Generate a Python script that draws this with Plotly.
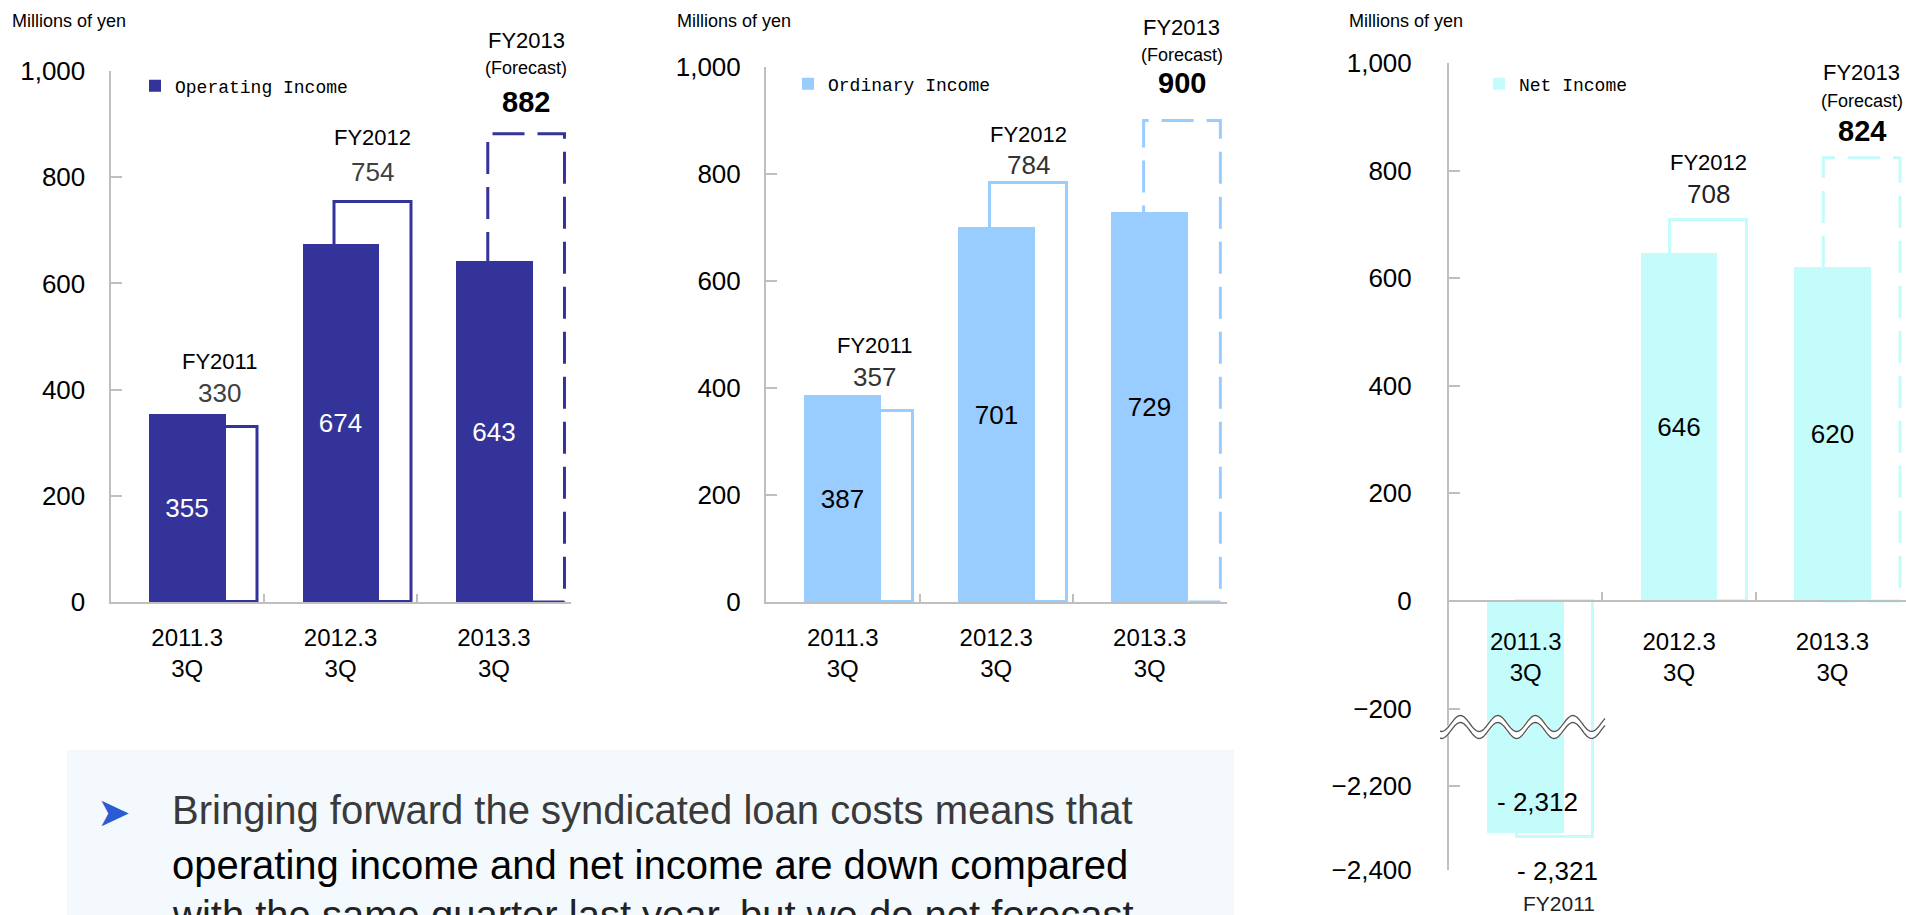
import numpy as np
import plotly.graph_objects as go

# ---------------- data ----------------
categories = ["2011.3<br>3Q", "2012.3<br>3Q", "2013.3<br>3Q"]
fy_labels = ["FY2011", "FY2012", "FY2013"]
is_forecast = [False, False, True]

operating_3q = [355, 674, 643]
operating_fy = [330, 754, 882]
ordinary_3q = [387, 701, 729]
ordinary_fy = [357, 784, 900]
net_3q = [-2312, 646, 620]
net_fy = [-2321, 708, 824]

y_ticks_main = [0, 200, 400, 600, 800, 1000]
y_ticks_net_upper = [-200, 0, 200, 400, 600, 800, 1000]
y_ticks_net_lower = [-2400, -2200]

note_lines = [
    "Bringing forward the syndicated loan costs means that",
    "operating income and net income are down compared",
    "with the same quarter last year, but we do not forecast",
]

# ---------------- layout helpers ----------------
W, H = 1906, 915
def px(x):
    return x / W
def py(y):
    return 1 - y / H

SANS = "Liberation Sans, Arial, sans-serif"
MONO = "Liberation Mono, DejaVu Sans Mono, monospace"
AXIS_GRAY = "#bfbfbf"

def fmt(v):
    return f"- {abs(v):,}" if v < 0 else f"{v:,}"

fig = go.Figure()
annotations = []
shapes = []

panels = [
    dict(name="Operating Income", q3=operating_3q, fy=operating_fy, color="#333399",
         txt="white", fyval_col="#404040", xa="x", ya="y", legend="legend",
         xdom=(110.5, 570.6), ydom=(602, 71), off=-0.04,
         shifts=[(34, 65), (30, 64), (32, 66, 93)], ystand=18, xstand=13),
    dict(name="Ordinary Income", q3=ordinary_3q, fy=ordinary_fy, color="#99ccff",
         txt="black", fyval_col="#333333", xa="x2", ya="y2", legend="legend2",
         xdom=(766, 1226.5), ydom=(602, 67), off=-0.04,
         shifts=[(34, 66), (18, 48), (38, 66, 93)], ystand=18, xstand=13),
]

def add_fy_annotations(p, xa, ya, vals, offc):
    for i, v in enumerate(vals):
        if v < 0:
            continue
        sh = p["shifts"][i]
        if is_forecast[i]:
            annotations.append(dict(x=i + offc, y=v, xref=xa, yref=ya, yanchor="middle",
                                    yshift=sh[0], text=f"<b>{fmt(v)}</b>", showarrow=False,
                                    font=dict(family=SANS, size=29, color="black")))
            annotations.append(dict(x=i + offc, y=v, xref=xa, yref=ya, yanchor="middle",
                                    yshift=sh[1], text="(Forecast)", showarrow=False,
                                    font=dict(family=SANS, size=18, color="black")))
            annotations.append(dict(x=i + offc, y=v, xref=xa, yref=ya, yanchor="middle",
                                    yshift=sh[2], text=fy_labels[i], showarrow=False,
                                    font=dict(family=SANS, size=22, color="black")))
        else:
            annotations.append(dict(x=i + offc, y=v, xref=xa, yref=ya, yanchor="middle",
                                    yshift=sh[0], text=fmt(v), showarrow=False,
                                    font=dict(family=SANS, size=26, color=p["fyval_col"])))
            annotations.append(dict(x=i + offc, y=v, xref=xa, yref=ya, yanchor="middle",
                                    yshift=sh[1], text=fy_labels[i], showarrow=False,
                                    font=dict(family=SANS, size=22, color="black")))

def add_bars(p, xa, ya, legend, show_text=True, showlegend=True):
    outline_vals = [None if f else v for v, f in zip(p["fy"], is_forecast)]
    fig.add_trace(go.Bar(
        x=categories, y=outline_vals, width=0.5, offset=p["off"],
        marker=dict(color="white", line=dict(color=p["color"], width=3)),
        showlegend=False, hoverinfo="skip", xaxis=xa, yaxis=ya, name="FY"))
    texts = [fmt(v) if (v > 0 and show_text) else "" for v in p["q3"]]
    fig.add_trace(go.Bar(
        x=categories, y=p["q3"], width=0.5, offset=-0.25,
        marker=dict(color=p["color"], line=dict(width=0)),
        text=texts, textposition="inside", insidetextanchor="middle",
        textfont=dict(family=SANS, size=26, color=p["txt"]),
        name=p["name"], legend=legend, showlegend=showlegend,
        xaxis=xa, yaxis=ya))

def add_forecast_shapes(p, xa, ya):
    for i, v in enumerate(p["fy"]):
        if is_forecast[i]:
            shapes.append(dict(type="rect", xref=xa, yref=ya,
                               x0=i + p["off"], x1=i + p["off"] + 0.5, y0=0, y1=v,
                               line=dict(color=p["color"], width=3, dash="32px,13px"),
                               fillcolor="rgba(0,0,0,0)", layer="below"))

axis_common = dict(showline=True, linecolor=AXIS_GRAY, linewidth=2, showgrid=False,
                   zeroline=False, ticks="inside", tickcolor=AXIS_GRAY, tickwidth=2,
                   automargin=False, fixedrange=True)

layout_axes = {}
for k, p in enumerate(panels):
    add_bars(p, p["xa"], p["ya"], p["legend"])
    add_forecast_shapes(p, p["xa"], p["ya"])
    add_fy_annotations(p, p["xa"], p["ya"], p["fy"], p["off"] + 0.25)
    xk = "xaxis" if p["xa"] == "x" else "xaxis" + p["xa"][1:]
    yk = "yaxis" if p["ya"] == "y" else "yaxis" + p["ya"][1:]
    layout_axes[xk] = dict(axis_common, type="category", domain=[px(p["xdom"][0]), px(p["xdom"][1])],
                           range=[-0.5, 2.5], tickson="boundaries", ticklen=8, anchor=p["ya"],
                           tickfont=dict(family=SANS, size=24, color="black"),
                           ticklabelstandoff=p["xstand"])
    layout_axes[yk] = dict(axis_common, domain=[py(p["ydom"][0]), py(p["ydom"][1])],
                           range=[0, 1000], tickvals=y_ticks_main, tickformat=",", ticklen=11,
                           anchor=p["xa"], tickfont=dict(family=SANS, size=26, color="black"),
                           ticklabelstandoff=p["ystand"])

# ---------------- panel 3 : net income with broken axis ----------------
p3 = dict(name="Net Income", q3=net_3q, fy=net_fy, color="#c4fcfc", txt="black",
          fyval_col="#222222", off=-0.06,
          shifts=[(0, 0), (26, 58), (27, 57, 85)])
add_bars(p3, "x3", "y3", "legend3")
add_bars(p3, "x3", "y4", "legend3", show_text=False, showlegend=False)
add_forecast_shapes(p3, "x3", "y3")
add_fy_annotations(p3, "x3", "y3", p3["fy"], p3["off"] + 0.25)
for i, v in enumerate(net_3q):
    if v < 0:
        annotations.append(dict(x=i + 0.08, y=v, xref="x3", yref="y4", yanchor="middle",
                                yshift=31, text=fmt(v), showarrow=False,
                                font=dict(family=SANS, size=26, color="black")))
for i, v in enumerate(net_fy):
    if v < 0:
        annotations.append(dict(x=i + 0.21, y=v, xref="x3", yref="y4", yanchor="middle",
                                yshift=-34, text=fmt(v), showarrow=False,
                                font=dict(family=SANS, size=26, color="black")))
        annotations.append(dict(x=i + 0.22, y=v, xref="x3", yref="y4", yanchor="middle",
                                yshift=-67, text=fy_labels[i], showarrow=False,
                                font=dict(family=SANS, size=21, color="#222222")))

cat_w = 153.4
layout_axes["xaxis3"] = dict(axis_common, type="category", domain=[px(1449), 1.0],
                             range=[-0.5, -0.5 + (W - 1449) / cat_w], tickson="boundaries",
                             ticklen=8, anchor="free", position=py(601),
                             tickfont=dict(family=SANS, size=24, color="black"),
                             ticklabelstandoff=19)
layout_axes["yaxis3"] = dict(axis_common, domain=[py(729), py(63)], range=[-238, 1000],
                             tickvals=y_ticks_net_upper, tickformat=",", ticklen=11, anchor="x3",
                             tickfont=dict(family=SANS, size=26, color="black"),
                             ticklabelstandoff=30)
layout_axes["yaxis4"] = dict(axis_common, domain=[py(870), py(729)], range=[-2400, -2064],
                             tickvals=y_ticks_net_lower, tickformat=",", ticklen=11, anchor="x3",
                             tickfont=dict(family=SANS, size=26, color="black"),
                             ticklabelstandoff=30)

# wavy break marks
xs = np.linspace(1440, 1605, 120)
yc = 727
def wave_path(dy):
    ys = yc + dy - 8 * np.sin(2 * np.pi * (xs - 1451) / 37.5)
    pts = [f"{px(a):.5f},{py(b):.5f}" for a, b in zip(xs, ys)]
    return "M" + " L".join(pts)
shapes.append(dict(type="path", xref="paper", yref="paper", path=wave_path(0),
                   line=dict(color="white", width=7), layer="above"))
for dy in (-3.5, 3.5):
    shapes.append(dict(type="path", xref="paper", yref="paper", path=wave_path(dy),
                       line=dict(color="#555555", width=1.3), layer="above"))

# "Millions of yen" labels
for xl in (10, 675, 1347):
    annotations.append(dict(x=px(xl), y=py(21), xref="paper", yref="paper", xanchor="left",
                            yanchor="middle", text="Millions of yen", showarrow=False,
                            font=dict(family=SANS, size=18, color="black")))

# note box at the bottom
shapes.append(dict(type="rect", xref="paper", yref="paper", x0=px(67), x1=px(1234),
                   y0=0, y1=py(750), fillcolor="#f3f9fd", line=dict(width=0), layer="below"))
annotations.append(dict(x=px(114), y=py(812), xref="paper", yref="paper", xanchor="center",
                        yanchor="middle", text="➤", showarrow=False,
                        font=dict(family="DejaVu Sans", size=40, color="#2a5bd0")))
note_colors = ["#3a3a3a", "#000000", "#222222"]
for line, yy, col in zip(note_lines, (810, 865, 915), note_colors):
    annotations.append(dict(x=px(170), y=py(yy), xref="paper", yref="paper", xanchor="left",
                            yanchor="middle", text=line, showarrow=False,
                            font=dict(family=SANS, size=40, color=col)))

leg_common = dict(xanchor="left", yanchor="middle", bgcolor="rgba(0,0,0,0)",
                  font=dict(family=MONO, size=18, color="black"), borderwidth=0)

fig.update_layout(
    template="none",
    width=W, height=H, margin=dict(l=0, r=0, t=0, b=0, pad=0, autoexpand=False),
    paper_bgcolor="white", plot_bgcolor="white",
    barmode="overlay", bargap=0,
    annotations=annotations, shapes=shapes,
    legend=dict(leg_common, x=px(135), y=py(86)),
    legend2=dict(leg_common, x=px(788), y=py(84)),
    legend3=dict(leg_common, x=px(1479), y=py(84)),
    **layout_axes,
)

fig.write_html("out.html")
